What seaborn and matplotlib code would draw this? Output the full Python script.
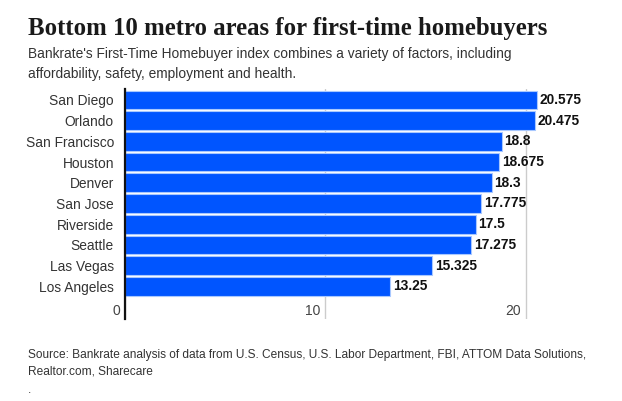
# bottom 10 metro areas bar chart
import matplotlib
matplotlib.use('Agg')
import matplotlib.pyplot as plt
import matplotlib.transforms as mtrans
import pandas as pd
import seaborn as sns

metros = ['San Diego', 'Orlando', 'San Francisco', 'Houston', 'Denver',
          'San Jose', 'Riverside', 'Seattle', 'Las Vegas', 'Los Angeles']
scores = [20.575, 20.475, 18.8, 18.675, 18.3, 17.775, 17.5, 17.275, 15.325, 13.25]
score_labels = ['20.575', '20.475', '18.8', '18.675', '18.3',
                '17.775', '17.5', '17.275', '15.325', '13.25']
xtick_vals = [0, 10, 20]

title = 'Bottom 10 metro areas for first-time homebuyers'
subtitle = ("Bankrate's First-Time Homebuyer index combines a variety of factors, including\n"
            "affordability, safety, employment and health.")
source = ('Source: Bankrate analysis of data from U.S. Census, U.S. Labor Department, FBI, ATTOM Data Solutions,\n'
          'Realtor.com, Sharecare')

W, H = 622, 401

sns.set_theme(style='white')
plt.rcParams['font.family'] = ['Liberation Sans', 'DejaVu Sans']

df = pd.DataFrame({'metro': metros, 'score': scores})

fig = plt.figure(figsize=(W / 100, H / 100), dpi=100, facecolor='white')
# axes box in pixels: left 125, top 89, bottom 319
ax = fig.add_axes([125 / W, 1 - 319 / H, (W - 125) / W, (319 - 89) / H])

ax.grid(axis='x', color='#cccccc', linewidth=1)
ax.set_axisbelow(True)
sns.barplot(data=df, x='score', y='metro', color='#0055ff', saturation=1, width=0.9,
            edgecolor='#a8c8ff', linewidth=0.8, ax=ax)

ax.set_xlim(0, (W - 125) / 20.03)
ax.set_ylim(10.58, -0.53)
ax.set_xlabel('')
ax.set_ylabel('')
ax.set_xticks(xtick_vals)
ax.set_xticklabels([str(v) for v in xtick_vals])
ax.tick_params(axis='x', length=0, pad=-11, labelsize=10, labelcolor='#444444')
ax.tick_params(axis='y', length=0, pad=8, labelsize=9.9, labelcolor='#333333')

# x labels sit left of their gridline, inside the axes
shift = mtrans.ScaledTranslation(-3.5 / 72, 0, fig.dpi_scale_trans)
for lab in ax.get_xticklabels():
    lab.set_ha('right')
    lab.set_transform(lab.get_transform() + shift)

for spine in ['top', 'right', 'bottom']:
    ax.spines[spine].set_visible(False)
ax.spines['left'].set_color('#111111')
ax.spines['left'].set_linewidth(1.6)

for bars in ax.containers:
    ax.bar_label(bars, labels=score_labels, padding=2, fontsize=9.9,
                 fontweight='bold', color='#111111')

fig.text(28 / W, 1 - 28.5 / H, title, family=['Liberation Serif'], fontweight='bold',
         fontsize=17.85, color='#1a1a1a', va='center', ha='left')
fig.text(28 / W, 1 - 47 / H, subtitle, fontsize=9.95, color='#333333', va='top',
         ha='left', linespacing=1.55)
fig.text(28 / W, 1 - 349 / H, source, fontsize=8.6, color='#333333', va='top',
         ha='left', linespacing=1.5)
fig.text(28 / W, 1 - 384 / H, '.', fontsize=8.6, color='#333333', va='top', ha='left')

fig.savefig('out.png', dpi=100)
